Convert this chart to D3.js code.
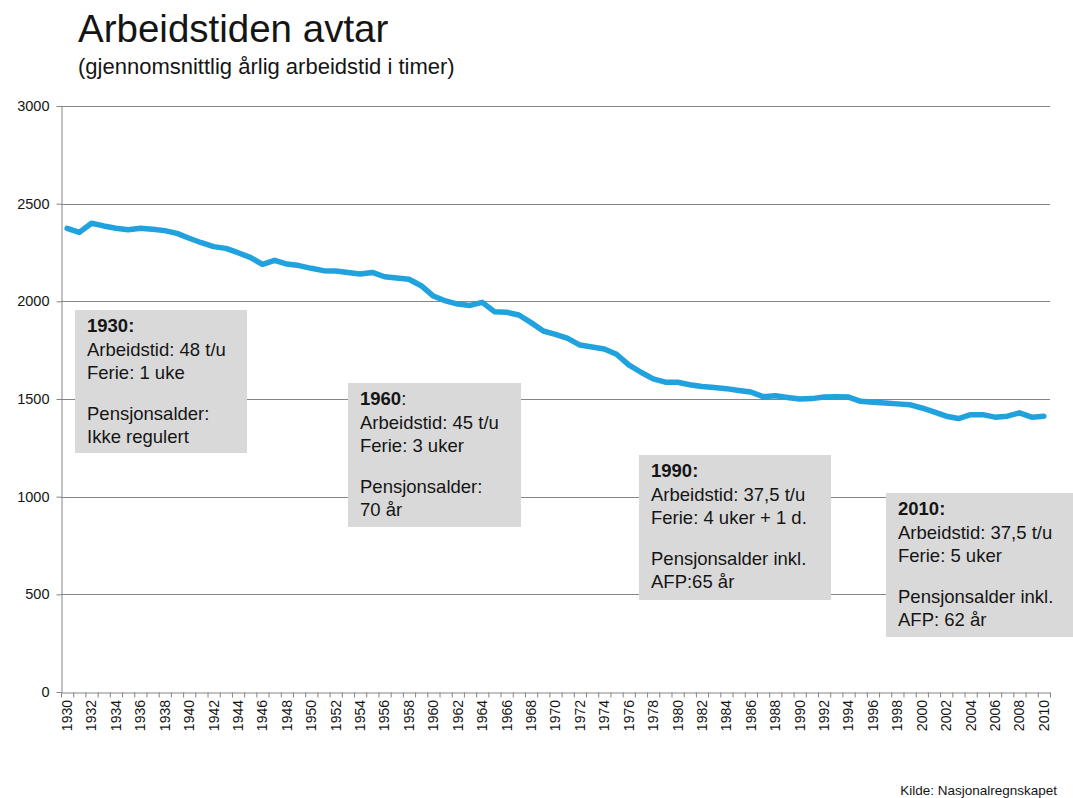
<!DOCTYPE html>
<html>
<head>
<meta charset="utf-8">
<script src="https://cdn.jsdelivr.net/npm/d3@7"></script>
<style>
  body { margin: 0; background: #fff; }
  svg { font-family: "Liberation Sans", Arial, sans-serif; }
</style>
</head>
<body>
<svg width="1073" height="798"></svg>
<script>
// arbeidstimer per år, 1930-2010
const years = d3.range(1930, 2011)
const hours = [
	2374, 2353, 2400, 2386, 2374, 2367, 2374, 2369, 2362, 2348,
	2323, 2300, 2280, 2271, 2249, 2225, 2189, 2210, 2191, 2183,
	2169, 2157, 2155, 2148, 2140, 2148, 2126, 2119, 2113, 2080,
	2027, 2002, 1986, 1979, 1995, 1947, 1944, 1930, 1891, 1848,
	1831, 1810, 1776, 1766, 1756, 1729, 1675, 1637, 1603, 1586,
	1586, 1573, 1564, 1559, 1553, 1544, 1536, 1512, 1517, 1508,
	1500, 1502, 1510, 1512, 1510, 1488, 1483, 1480, 1475, 1471,
	1454, 1434, 1412, 1400, 1420, 1420, 1407, 1412, 1429, 1407, 1412
]
const yTicks = [0, 500, 1000, 1500, 2000, 2500, 3000]
const labelYears = years.filter(y => y % 2 === 0)

// tekst i boksene
const noteYears = ['1930', '1960', '1990', '2010']
const noteColon = [true, false, true, true] // 1960: kolon ikke fet
const noteLines = [
	['Arbeidstid: 48 t/u', 'Ferie: 1 uke'],
	['Arbeidstid: 45 t/u', 'Ferie: 3 uker'],
	['Arbeidstid: 37,5 t/u', 'Ferie: 4 uker + 1 d.'],
	['Arbeidstid: 37,5 t/u', 'Ferie: 5 uker']
]
const noteLines2 = [
	['Pensjonsalder:', 'Ikke regulert'],
	['Pensjonsalder:', '70 år'],
	['Pensjonsalder inkl.', 'AFP:65 år'],
	['Pensjonsalder inkl.', 'AFP: 62 år']
]

const margin = { left: 61, right: 1050, top: 106, bottom: 692 }
const boxPos = [ // x, y, w, h i piksler
	[75, 310, 172, 143],
	[348, 383, 173, 144],
	[639, 455, 192, 145],
	[886, 493, 187, 144]
]

const svg = d3.select('svg')
const gridColor = '#858585'
const textColor = '#151515'

const x = d3.scaleBand().domain(years).range([margin.left, margin.right])
const xEdge = d3.scaleLinear().domain([1930, 2011]).range([margin.left, margin.right])
const y = d3.scaleLinear().domain([0, 3000]).range([margin.bottom, margin.top])

// tittel
svg.append('text').attr('x', 78).attr('y', 42)
	.style('font-size', '38.5px').style('fill', textColor)
	.text('Arbeidstiden avtar')
svg.append('text').attr('x', 78).attr('y', 74)
	.style('font-size', '22px').style('fill', textColor)
	.text('(gjennomsnittlig årlig arbeidstid i timer)')

// rutenett
svg.append('g')
	.selectAll('line')
	.data(yTicks.filter(d => d > 0))
	.join('line')
	.attr('x1', margin.left).attr('x2', margin.right)
	.attr('y1', d => Math.round(y(d)) + 0.5).attr('y2', d => Math.round(y(d)) + 0.5)
	.style('stroke', gridColor).style('stroke-width', 1)

// y-akse
const yAxis = svg.append('g')
	.attr('transform', `translate(${margin.left + 0.5},0)`)
	.call(d3.axisLeft(y).tickValues(yTicks).tickSize(5).tickSizeOuter(0).tickFormat(d3.format('d')))
yAxis.select('.domain').style('stroke', gridColor)
yAxis.selectAll('.tick line').style('stroke', gridColor)
yAxis.selectAll('text').style('font-size', '14.5px').style('fill', textColor).attr('x', -12)
	.style('font-family', '"Liberation Sans", Arial, sans-serif')

// x-akse: streker mellom kategoriene
const xAxis = svg.append('g')
	.attr('transform', `translate(0,${margin.bottom + 0.5})`)
	.call(d3.axisBottom(xEdge).tickValues(d3.range(1930, 2012)).tickSize(5).tickSizeOuter(0).tickFormat(''))
xAxis.select('.domain').style('stroke', gridColor)
xAxis.selectAll('.tick line').style('stroke', gridColor)

svg.append('g')
	.selectAll('text')
	.data(labelYears)
	.join('text')
	.attr('transform', d => `translate(${x(d) + x.bandwidth() / 2},${margin.bottom + 8}) rotate(-90)`)
	.attr('dy', '0.35em')
	.style('text-anchor', 'end')
	.style('font-size', '14px').style('fill', textColor)
	.text(d => d)

// linje
const line = d3.line()
	.x((d, i) => x(years[i]) + x.bandwidth() / 2)
	.y(d => y(d))
svg.append('path')
	.datum(hours)
	.attr('d', line)
	.style('fill', 'none')
	.style('stroke', '#1fa2dd')
	.style('stroke-width', 5.5)
	.style('stroke-linejoin', 'round')
	.style('stroke-linecap', 'round')

// bokser med tekst
const noteSize = '18.5px'
const lineStep = 23.5
noteYears.forEach((yr, i) => {
	const [bx, by, bw, bh] = boxPos[i]
	const g = svg.append('g')
	g.append('rect').attr('x', bx).attr('y', by).attr('width', bw).attr('height', bh)
		.style('fill', '#d9d9d9')
	const tx = bx + 12
	let ty = by + 22
	const head = g.append('text').attr('x', tx).attr('y', ty)
		.style('font-size', noteSize).style('fill', textColor)
	head.append('tspan').style('font-weight', 'bold').text(noteColon[i] ? yr + ':' : yr)
	if (!noteColon[i]) head.append('tspan').text(':')
	noteLines[i].forEach(t => {
		ty += lineStep
		g.append('text').attr('x', tx).attr('y', ty)
			.style('font-size', noteSize).style('fill', textColor).text(t)
	})
	ty += 17
	noteLines2[i].forEach(t => {
		ty += lineStep
		g.append('text').attr('x', tx).attr('y', ty)
			.style('font-size', noteSize).style('fill', textColor).text(t)
	})
})

// kilde
svg.append('text').attr('x', 1057).attr('y', 795)
	.style('text-anchor', 'end').style('font-size', '13.5px').style('fill', textColor)
	.text('Kilde: Nasjonalregnskapet')
</script>
</body>
</html>
